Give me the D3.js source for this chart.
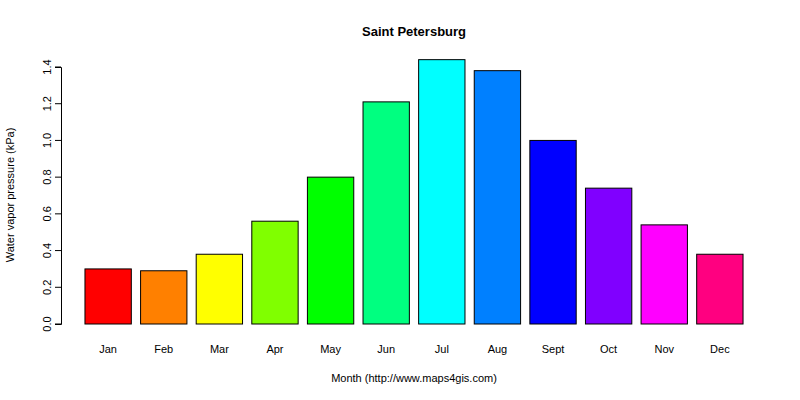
<!DOCTYPE html>
<html><head><meta charset="utf-8">
<script src="https://cdn.jsdelivr.net/npm/d3@7"></script>
<style>body{margin:0;background:#fff}text{font-family:"Liberation Sans",Arial,sans-serif}</style>
</head><body>
<svg id="chart" width="800" height="400"></svg>
<script>
var months = ['Jan','Feb','Mar','Apr','May','Jun','Jul','Aug','Sept','Oct','Nov','Dec'];
var pressure = [0.30,0.29,0.38,0.56,0.80,1.21,1.44,1.38,1.00,0.74,0.54,0.38];
var colours = ['#FF0000','#FF8000','#FFFF00','#80FF00','#00FF00','#00FF80','#00FFFF','#0080FF','#0000FF','#8000FF','#FF00FF','#FF0080'];
var yTicks = [0,0.2,0.4,0.6,0.8,1.0,1.2,1.4];

var svg = d3.select('#chart');

// barplot-style units: width 1, space 0.2
var x = d3.scaleLinear().domain([0, 14.6]).range([75.7, 752.3]);
var y = d3.scaleLinear().domain([0, 1.4]).range([324, 67]);

svg.selectAll('rect.bar').data(pressure).enter().append('rect')
    .attr('class', 'bar')
    .attr('x', function (d, i) { return x(0.2 + i * 1.2); })
    .attr('width', x(1) - x(0))
    .attr('y', function (d) { return y(d); })
    .attr('height', function (d) { return y(0) - y(d); })
    .attr('fill', function (d, i) { return colours[i]; })
    .attr('stroke', '#000').attr('stroke-width', 1);

var yAxis = svg.append('g').attr('transform', 'translate(61,0)')
    .call(d3.axisLeft(y).tickValues(yTicks).tickFormat(d3.format('.1f')).tickSizeOuter(0).tickSize(6));
yAxis.select('.domain').attr('stroke', '#000');
yAxis.selectAll('text')
    .attr('font-size', 11).attr('fill', '#000')
    .attr('transform', function (d) { return 'rotate(-90,-9,' + y(d) + ')'; })
    .attr('x', -9).attr('dy', 0).attr('y', y(0))
    .each(function (d) { d3.select(this).attr('y', y(d)).attr('text-anchor', 'middle').attr('dy', '-0.5em'); });
yAxis.selectAll('.tick').attr('transform', null);
yAxis.selectAll('.tick line').attr('y1', function (d) { return y(d); }).attr('y2', function (d) { return y(d); });
yAxis.selectAll('.tick text').attr('x', -9).attr('transform', function (d) { return 'rotate(-90,-9,' + y(d) + ')'; })
    .attr('dy', '-0.1em');

svg.selectAll('text.month').data(months).enter().append('text')
    .attr('class', 'month')
    .attr('x', function (d, i) { return x(0.7 + i * 1.2); })
    .attr('y', 353)
    .attr('text-anchor', 'middle').attr('font-size', 11)
    .text(function (d) { return d; });

svg.append('text').attr('x', 414).attr('y', 36).attr('text-anchor', 'middle')
    .attr('font-size', 13).attr('font-weight', 'bold').text('Saint Petersburg');
svg.append('text').attr('x', 414).attr('y', 382).attr('text-anchor', 'middle')
    .attr('font-size', 11).text('Month (http://www.maps4gis.com)');
svg.append('text').attr('transform', 'translate(14,195) rotate(-90)').attr('text-anchor', 'middle')
    .attr('font-size', 11).text('Water vapor pressure (kPa)');
</script>
</body></html>
